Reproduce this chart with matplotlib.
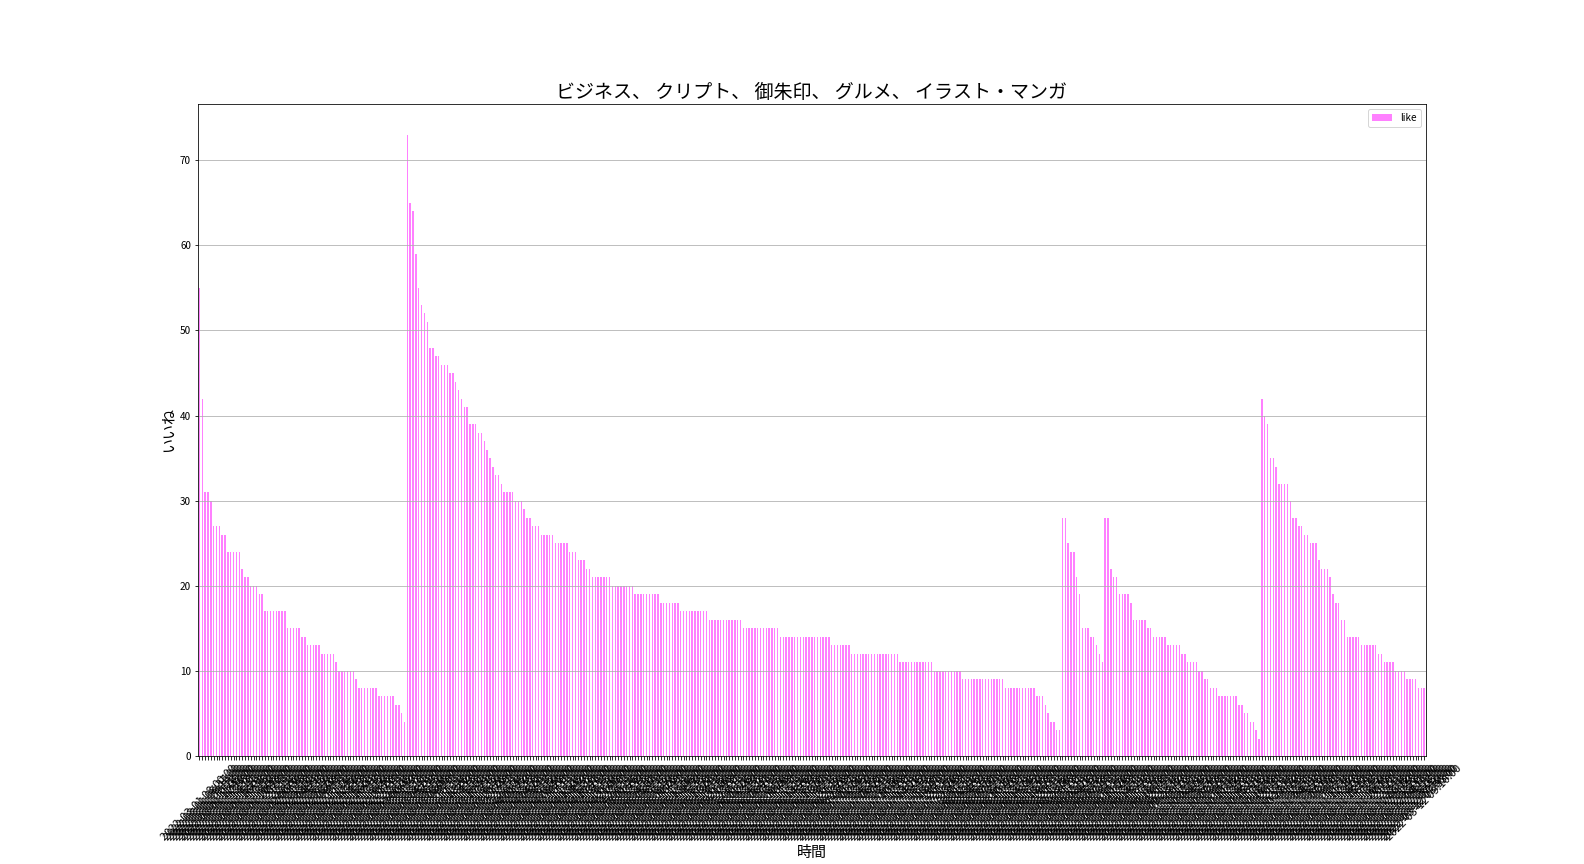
import matplotlib

matplotlib.use("Agg")
import matplotlib.pyplot as plt
import pandas as pd

plt.rcParams["font.family"] = ["Noto Sans CJK JP", "DejaVu Sans"]

TITLE = "ビジネス、 クリプト、 御朱印、 グルメ、 イラスト・マンガ"

# likes per post, each category sorted descending
business = [55, 42, 31, 31, 30, 27, 27, 27, 26, 26,
            24, 24, 24, 24, 24, 22, 21, 21, 20, 20,
            20, 19, 19, 17, 17, 17, 17, 17, 17, 17,
            17, 15, 15, 15, 15, 15, 14, 14, 13, 13,
            13, 13, 13, 12, 12, 12, 12, 12, 11, 10,
            10, 10, 10, 10, 10, 9, 8, 8, 8, 8,
            8, 8, 8, 7, 7, 7, 7, 7, 7, 6,
            6, 5, 4]
crypto = [73, 65, 64, 59, 55, 53, 52, 51, 48, 48,
          47, 47, 46, 46, 46, 45, 45, 44, 43, 42,
          41, 41, 39, 39, 39, 38, 38, 37, 36, 35,
          34, 33, 33, 32, 31, 31, 31, 31, 30, 30,
          30, 29, 28, 28, 27, 27, 27, 26, 26, 26,
          26, 26, 25, 25, 25, 25, 25, 24, 24, 24,
          23, 23, 23, 22, 22, 21, 21, 21, 21, 21,
          21, 21, 20, 20, 20, 20, 20, 20, 20, 20,
          19, 19, 19, 19, 19, 19, 19, 19, 19, 18,
          18, 18, 18, 18, 18, 18, 17, 17, 17, 17,
          17, 17, 17, 17, 17, 17, 16, 16, 16, 16,
          16, 16, 16, 16, 16, 16, 16, 16, 15, 15,
          15, 15, 15, 15, 15, 15, 15, 15, 15, 15,
          15, 14, 14, 14, 14, 14, 14, 14, 14, 14,
          14, 14, 14, 14, 14, 14, 14, 14, 14, 13,
          13, 13, 13, 13, 13, 13, 12, 12, 12, 12,
          12, 12, 12, 12, 12, 12, 12, 12, 12, 12,
          12, 12, 12, 11, 11, 11, 11, 11, 11, 11,
          11, 11, 11, 11, 11, 10, 10, 10, 10, 10,
          10, 10, 10, 10, 10, 9, 9, 9, 9, 9,
          9, 9, 9, 9, 9, 9, 9, 9, 9, 9,
          8, 8, 8, 8, 8, 8, 8, 8, 8, 8,
          8, 7, 7, 7, 6, 5, 4, 4, 3, 3]
goshuin = [28, 28, 25, 24, 24, 21, 19, 15, 15, 15, 14, 14, 13, 12, 11]
gourmet = [28, 28, 22, 21, 21, 19, 19, 19, 19, 18,
           16, 16, 16, 16, 16, 15, 15, 14, 14, 14,
           14, 14, 13, 13, 13, 13, 13, 12, 12, 11,
           11, 11, 11, 10, 10, 9, 9, 8, 8, 8,
           7, 7, 7, 7, 7, 7, 7, 6, 6, 5,
           5, 4, 4, 3, 2]
illust = [42, 40, 39, 35, 35, 34, 32, 32, 32, 32,
          30, 28, 28, 27, 27, 26, 26, 25, 25, 25,
          23, 22, 22, 22, 21, 19, 18, 18, 16, 16,
          14, 14, 14, 14, 14, 13, 13, 13, 13, 13,
          13, 12, 12, 11, 11, 11, 11, 10, 10, 10,
          10, 9, 9, 9, 9, 8, 8, 8]

like = business + crypto + goshuin + gourmet + illust
# x labels are post timestamps (unreadable in the original, they overlap)
times = pd.date_range("2022-03-01 08:00:00", periods=len(like), freq="37min").strftime("%Y-%m-%d %H:%M:%S").tolist()

fig, ax = plt.subplots(figsize=(22, 12), dpi=72)
fig.subplots_adjust(left=0.125, right=0.9, top=0.88, bottom=0.125)

x = range(len(like))
ax.bar(x, like, width=0.5, color="#ff80ff", label="like")
ax.set_xlim(-0.5, len(like) - 0.5)
ax.set_xticks(list(x))
ax.set_xticklabels(times, rotation=45, ha="center", fontsize=11)
ax.grid(axis="y")
ax.legend(loc="upper right")
ax.set_title(TITLE, fontsize=19)
ax.set_xlabel("時間", fontsize=15)
ax.set_ylabel("いいね", fontsize=15)

fig.savefig("out.png", dpi=72)
